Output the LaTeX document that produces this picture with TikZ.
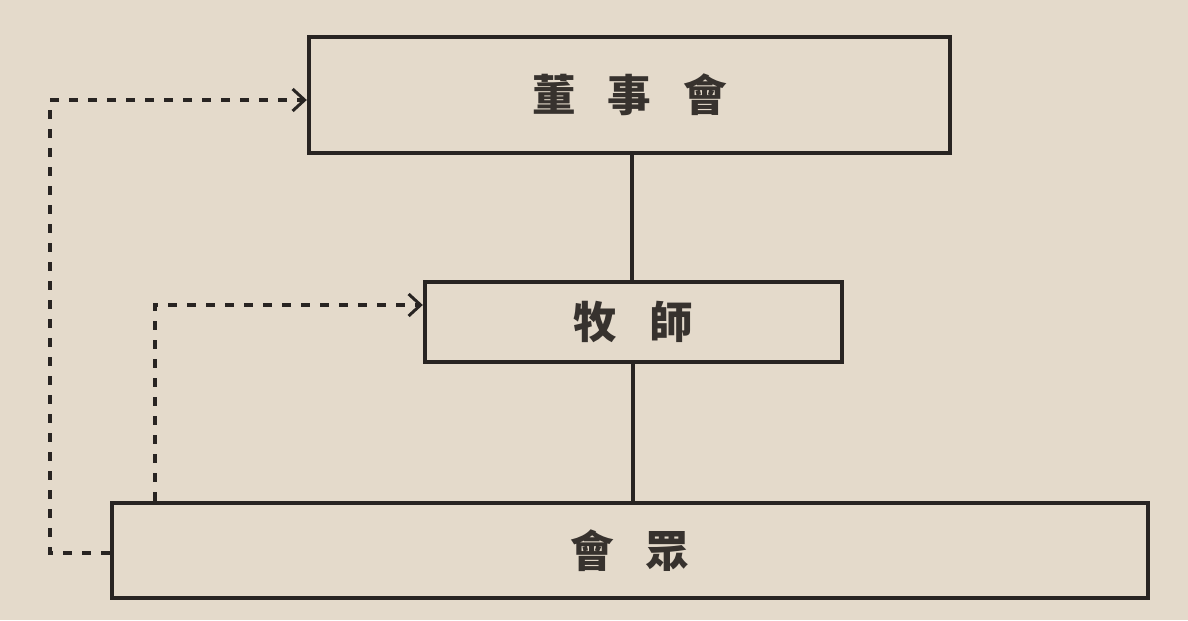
\documentclass[tikz,border=0pt]{standalone}
\usepackage{fontspec}
\setmainfont{Noto Sans CJK TC}
\usetikzlibrary{arrows.meta}
\definecolor{paper}{RGB}{228,218,203}
\definecolor{ink}{RGB}{40,36,34}
\definecolor{textink}{RGB}{55,50,46}
\tikzset{
  box/.style={draw=ink, line width=2.2mm, inner sep=0pt},
  lbl/.style={text=textink, font=\fontsize{62}{64}\selectfont\bfseries},
  solidline/.style={draw=ink, line width=1.8mm},
  dashline/.style={draw=ink, line width=2.4mm, dash pattern=on 4.5mm off 5mm},
  tip/.style={-{Straight Barb[length=6mm,width=11mm,line width=1.5mm]}}
}
\begin{document}
\begin{tikzpicture}[x=0.5mm,y=-0.5mm]
\fill[paper] (0,0) rectangle (1188,620);
\useasboundingbox (0,0) rectangle (1188,620);
\node[box, minimum width=320.5mm, minimum height=58mm] (board) at (629.5,95) {};
\node[lbl] at (board.center) {董\hspace{16mm}事\hspace{16mm}會};
\node[box, minimum width=208.5mm, minimum height=40mm] (pastor) at (633.5,322) {};
\node[lbl] at (pastor.center) {牧\hspace{16mm}師};
\node[box, minimum width=518mm, minimum height=47.5mm] (cong) at (630,550.5) {};
\node[lbl] at (cong.center) {會\hspace{16mm}眾};
\draw[solidline] (board.south -| 632,0) -- (pastor.north -| 632,0);
\draw[solidline] (pastor.south -| 633,0) -- (cong.north -| 633,0);
\coordinate (a1) at (50,553);
\coordinate (a2) at (50,100);
\draw[dashline, tip] (cong.west |- 0,553) -- (a1) -- (a2) -- (board.west |- 0,100);
\coordinate (b1) at (155,305);
\draw[dashline, tip] (cong.north -| 155,0) -- (b1) -- (pastor.west |- 0,305);
\end{tikzpicture}
\end{document}
